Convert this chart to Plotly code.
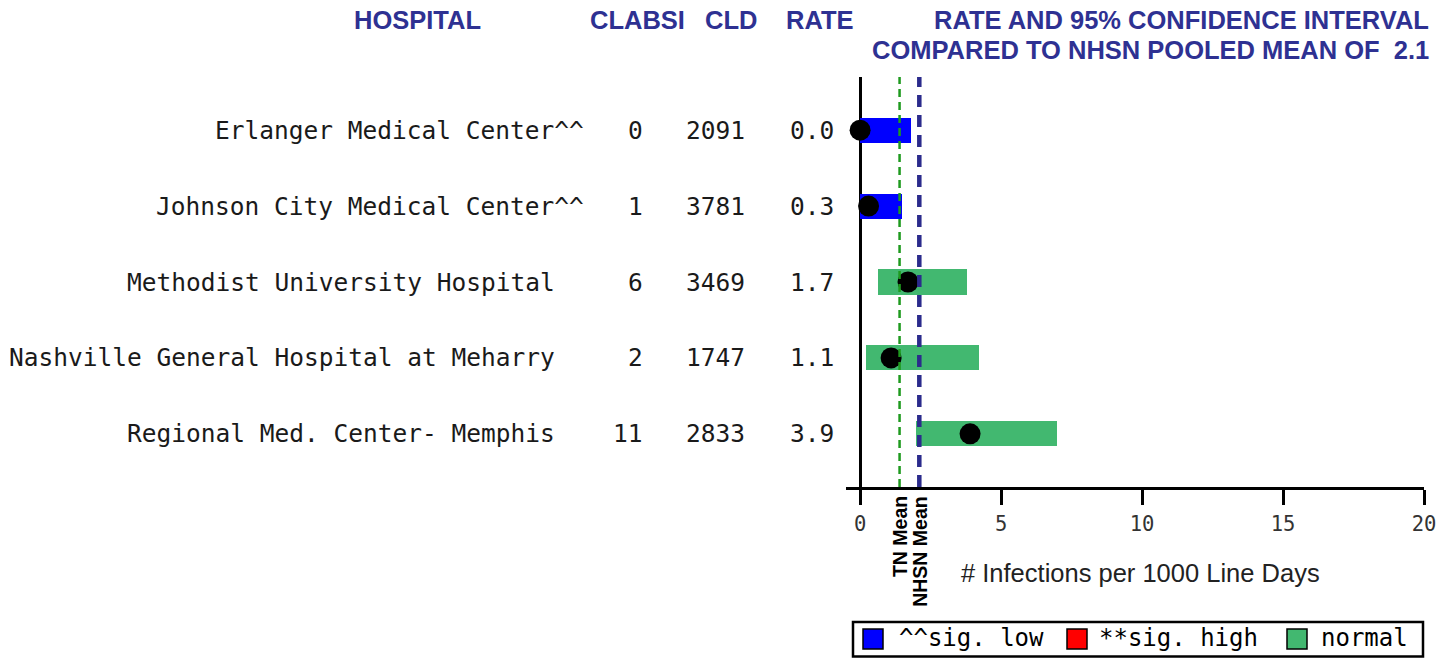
import plotly.graph_objects as go

# ---------------- data ----------------
hospitals = ["Erlanger Medical Center^^", "Johnson City Medical Center^^",
             "Methodist University Hospital", "Nashville General Hospital at Meharry",
             "Regional Med. Center- Memphis"]
clabsi = [0, 1, 6, 2, 11]
cld = [2091, 3781, 3469, 1747, 2833]
rate = [0.0, 0.3, 1.7, 1.1, 3.9]
ci_low = [0.0, 0.0, 0.65, 0.2, 2.0]
ci_high = [1.8, 1.5, 3.8, 4.2, 7.0]
status = ["low", "low", "normal", "normal", "normal"]
tn_mean = 1.4
nhsn_mean = 2.1
x_ticks = [0, 5, 10, 15, 20]
legend_labels = ["^^sig. low", "**sig. high", "normal"]

# ---------------- styling ----------------
W, H = 1456, 658
L, R, T, B = 846, 32, 77, 171
PW, PH = W - L - R, H - T - B
NAVY = "#2E3192"
COLORS = {"low": "#0000FF", "high": "#FF0000", "normal": "#42B870"}
MONO = "DejaVu Sans Mono, Liberation Mono, monospace"
SANS = "Liberation Sans, Arial, sans-serif"


def px(xp):
    return (xp - L) / PW


def py(yp):
    return (H - B - yp) / PH


rows = list(range(len(hospitals), 0, -1))  # top to bottom

fig = go.Figure()
fig.add_trace(go.Bar(
    y=rows, x=[h - l for h, l in zip(ci_high, ci_low)], base=ci_low,
    orientation="h", width=0.33,
    marker=dict(color=[COLORS[s] for s in status], line=dict(width=0)),
    showlegend=False, hoverinfo="skip"))
fig.add_trace(go.Scatter(
    y=rows, x=rate, mode="markers",
    marker=dict(color="black", size=21), showlegend=False, hoverinfo="skip"))

# mean lines
fig.add_shape(type="line", xref="x", yref="paper", x0=tn_mean, x1=tn_mean, y0=0, y1=1,
              line=dict(color="#1E9A1E", width=2.5, dash="8px,5px"))
fig.add_shape(type="line", xref="x", yref="paper", x0=nhsn_mean, x1=nhsn_mean, y0=0, y1=1,
              line=dict(color="#2B2B8C", width=4.5, dash="12px,8px"))

HFONT = dict(family=SANS, size=25.5, color=NAVY, weight="bold")
ann = []
# column headers
for txt, xc in [("HOSPITAL", 417), ("CLABSI", 637), ("CLD", 731), ("RATE", 820)]:
    ann.append(dict(text=txt, x=px(xc), y=py(20), xref="paper", yref="paper",
                    xanchor="center", yanchor="middle", showarrow=False, font=HFONT))
ann.append(dict(text="RATE AND 95% CONFIDENCE INTERVAL", x=px(1431), y=py(20),
                xref="paper", yref="paper", xanchor="right", yanchor="middle",
                showarrow=False, font=HFONT))
ann.append(dict(text=f"COMPARED TO NHSN POOLED MEAN OF\u00a0\u00a0{nhsn_mean}", x=px(1431), y=py(50),
                xref="paper", yref="paper", xanchor="right", yanchor="middle",
                showarrow=False, font=HFONT))

# table rows
for i, r in enumerate(rows):
    name = hospitals[i]
    name_txt = name if name.endswith("^^") else name + "\u00a0\u00a0"
    for txt, xr in [(name_txt, 586), (str(clabsi[i]), 645), (str(cld[i]), 747), (f"{rate[i]:.1f}", 836)]:
        ann.append(dict(text=txt, x=px(xr), y=r, xref="paper", yref="y",
                        xanchor="right", yanchor="middle", showarrow=False,
                        font=dict(family=MONO, size=24.5, color="#1a1a1a")))

# mean labels (rotated)
for txt, xv in [("TN Mean", tn_mean), ("NHSN Mean", nhsn_mean)]:
    ann.append(dict(text=txt, x=xv, y=py(494), xref="x", yref="paper", textangle=-90,
                    xanchor="center", yanchor="top", showarrow=False,
                    font=dict(family=SANS, size=19.5, color="black", weight="bold")))

# axis title
ann.append(dict(text="# Infections per 1000 Line Days", x=px(1140), y=py(573),
                xref="paper", yref="paper", xanchor="center", yanchor="middle",
                showarrow=False, font=dict(family=SANS, size=25.5, color="#222222")))

# manual legend
shapes = []
shapes.append(dict(type="rect", xref="paper", yref="paper", x0=px(853), x1=px(1423),
                   y0=py(622), y1=py(656.5), line=dict(color="black", width=2.5),
                   fillcolor="rgba(0,0,0,0)"))
sq_x = [863, 1067, 1287]
txt_x = [897, 1097, 1319]
for lbl, key, xs, xt in zip(legend_labels, ["low", "high", "normal"], sq_x, txt_x):
    shapes.append(dict(type="rect", xref="paper", yref="paper", x0=px(xs), x1=px(xs + 20),
                       y0=py(629), y1=py(649), fillcolor=COLORS[key],
                       line=dict(color="black", width=1.5)))
    ann.append(dict(text=lbl, x=px(xt), y=py(638), xref="paper", yref="paper",
                    xanchor="left", yanchor="middle", showarrow=False,
                    font=dict(family=MONO, size=24, color="black")))

for s in shapes:
    fig.add_shape(**s)

fig.update_layout(
    width=W, height=H, margin=dict(l=L, r=R, t=T, b=B, pad=0),
    paper_bgcolor="white", plot_bgcolor="white",
    annotations=ann, bargap=0,
    xaxis=dict(range=[-0.5, 20], tickvals=x_ticks, ticktext=[str(t) for t in x_ticks],
               showgrid=False, zeroline=True, zerolinecolor="black", zerolinewidth=2.5,
               showline=True, linecolor="black", linewidth=2.5,
               ticks="outside", ticklen=15, tickwidth=2.5, tickcolor="black",
               tickfont=dict(family=MONO, size=20.5, color="#333333"), ticklabelstandoff=2),
    yaxis=dict(range=[0.3, 5.7], showgrid=False, zeroline=False, showline=False,
               showticklabels=False, ticks=""),
)

fig.write_html("out.html", config={"displayModeBar": False},
               post_script="document.body.style.margin='0px';")
